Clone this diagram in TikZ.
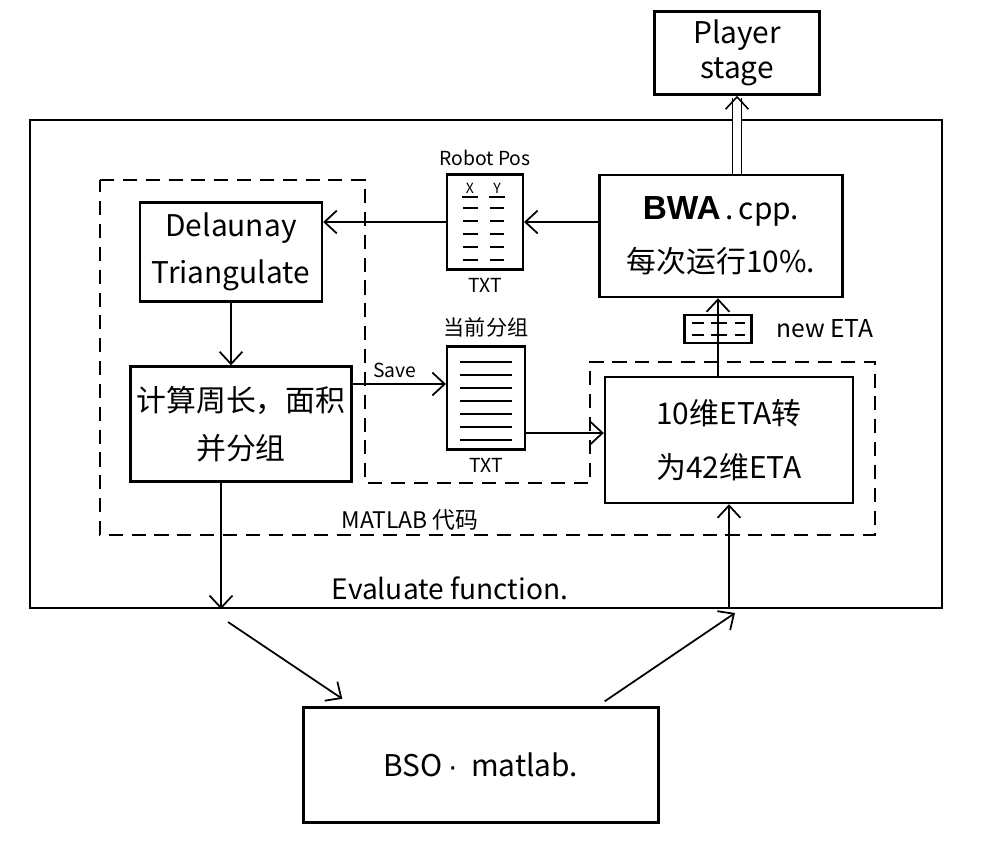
\documentclass[tikz,border=0pt]{standalone}
\usepackage{fontspec}
\setmainfont{Noto Sans CJK SC}
\newfontfamily\latinfont{Liberation Sans}
\usepackage{tikz}
\usetikzlibrary{positioning,arrows.meta,calc}

\begin{document}
\begin{tikzpicture}[x=0.02cm,y=-0.02cm,
    box/.style={draw,line width=1.4pt,align=center,font=\fontsize{17}{27}\selectfont},
    doc/.style={draw,line width=1.2pt},
    arr/.style={line width=1pt,-{Straight Barb[length=7pt,width=13pt]}},
    small/.style={font=\fontsize{11}{13}\selectfont}]
  \useasboundingbox (0,0) rectangle (990,867);
  % frames
  \node[draw,line width=1.4pt,minimum width=18.24cm,minimum height=9.76cm] (outer) at (486,364) {};
  \draw[line width=1.2pt,dash pattern=on 8pt off 5pt] (100,180) -- (365,180) -- (365,483) -- (590,483)
    -- (590,362) -- (875,362) -- (875,535) -- (100,535) -- cycle;
  \node[font=\fontsize{13}{15}\selectfont] (matlab) at (410,520) {MATLAB 代码};
  % boxes
  \node[box,font=\fontsize{17}{20}\selectfont,minimum width=3.3cm,minimum height=1.66cm] (player) at (737,53) {Player\\stage};
  \node[box,minimum width=3.64cm,minimum height=1.98cm] (delaunay) at (231,252) {Delaunay\\Triangulate};
  \node[box,minimum width=4.34cm,minimum height=2.3cm] (calc) at (241,424) {计算周长，面积\\并分组};
  \node[box,font=\fontsize{17}{30}\selectfont,minimum width=4.86cm,minimum height=2.44cm] (bwa) at (721,236)
    {{\latinfont\bfseries\fontsize{19}{30}\selectfont BWA}\,.\,cpp.\\每次运行10\%.};
  \node[box,font=\fontsize{17}{31}\selectfont,minimum width=4.96cm,minimum height=2.52cm] (eta) at (729,440)
    {10维ETA转\\为42维ETA};
  \node[box,minimum width=7.1cm,minimum height=2.3cm] (bso) at (481,765) {BSO{\latinfont\,·}\ \ matlab.};
  % txt files
  \node[doc,minimum width=1.52cm,minimum height=1.9cm] (robot) at (485,222) {};
  \node[small,above=1pt of robot] (robotlbl) {Robot Pos};
  \node[small,below=1pt of robot] (robottxt) {TXT};
  \node[font=\fontsize{8}{9}\selectfont] (xcol) at (470,188) {X};
  \node[font=\fontsize{8}{9}\selectfont] (ycol) at (497,188) {Y};
  \draw[line width=1pt] (462,197) -- (478,197) (489,197) -- (505,197);
  \foreach \y in {208,221,234,247,260}
    \draw[line width=1pt] (463,\y) -- (478,\y) (490,\y) -- (504,\y);
  \node[doc,minimum width=1.56cm,minimum height=2.06cm] (group) at (486,398) {};
  \node[font=\fontsize{12}{14}\selectfont,above=1pt of group] (grouplbl) {当前分组};
  \node[small,below=1pt of group] (grouptxt) {TXT};
  \foreach \y in {362,375,...,440}
    \draw[line width=1pt] (460,\y) -- (512,\y);
  \node[doc,minimum width=1.34cm,minimum height=0.56cm] (neweta) at (718,329) {};
  \node[font=\fontsize{14}{16}\selectfont,right=0.35cm of neweta] (newetalbl) {new ETA};
  \foreach \y in {323,335}
    \draw[line width=1pt] (692,\y) -- (704,\y) (711,\y) -- (727,\y) (735,\y) -- (745,\y);
  % connectors
  \draw[arr] (bwa.west |- robot.east) -- (robot.east);
  \draw[arr] (robot.west) -- (robot.west -| delaunay.east);
  \draw[arr] (delaunay.south) -- (delaunay.south |- calc.north);
  \draw[arr] ([yshift=0.8cm]calc.east) -- ([yshift=0.8cm]calc.east -| group.west)
    node[small,pos=0.45,above] (save) {Save};
  \draw[arr] ([yshift=-0.7cm]group.east) -- ([yshift=-0.7cm]group.east -| eta.west);
  \draw[arr] (eta.north -| neweta.center) -- (bwa.south -| neweta.center);
  \draw[double,double distance=4pt,line width=0.9pt,-{Straight Barb[length=7pt,width=13pt]}]
    (bwa.north -| player.south) -- (player.south);
  % evaluate function
  \coordinate (inL) at ([xshift=-0.4cm]calc.south |- outer.south);
  \draw[arr] ([xshift=-0.4cm]calc.south) -- (inL);
  \coordinate (dL) at (228,622);
  \coordinate (uR) at (735,613);
  \draw[arr] (dL) -- ([xshift=0.8cm,yshift=0.15cm]bso.north west);
  \draw[arr] ([xshift=-1.1cm,yshift=0.1cm]bso.north east) -- (uR);
  \draw[arr] (eta.south |- outer.south) -- (eta.south);
  \node[font=\fontsize{16}{18}\selectfont,above] (evalf) at (450,606) {Evaluate function.};
\end{tikzpicture}
\end{document}
